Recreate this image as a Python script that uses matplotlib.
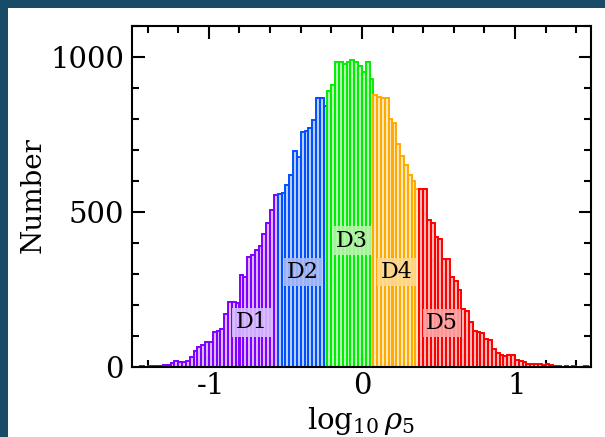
import matplotlib
matplotlib.use("Agg")
import matplotlib.pyplot as plt
from matplotlib.patches import Rectangle
from matplotlib.ticker import MultipleLocator
from matplotlib.colors import to_rgba
import numpy as np

plt.rcParams['font.family'] = ['DejaVu Serif']
plt.rcParams['mathtext.fontset'] = 'dejavuserif'
plt.rcParams['axes.unicode_minus'] = False

# histogram of log10 rho_5, bins of 0.025 starting at -1.5
bin_start = -1.5
bin_width = 0.025
counts = [0, 0, 1, 0, 1, 1, 1, 2,
          6, 6, 11, 18, 13, 15, 19, 32, 49, 62, 70, 78,
          80, 111, 115, 122, 170, 208, 208, 205, 297, 288, 355, 361, 375, 390, 428, 462, 505, 553,
          557, 562, 586, 618, 695, 678, 756, 762, 770, 797, 868, 866, 840,
          890, 910, 984, 984, 976, 984, 989, 984, 970, 952, 984, 928,
          878, 870, 866, 869, 800, 788, 718, 681, 650, 618, 600, 573,
          574, 574, 473, 462, 417, 412, 347, 347, 290, 275,
          247, 186, 179, 143, 116, 113, 107, 89, 86, 55,
          43, 38, 34, 38, 38, 22, 18, 14, 9, 9,
          8, 7, 5, 7, 4, 1, 1, 0, 1, 0,
          1, 0, 0, 1, 0]

# number of bins in each quintile D1..D5
group_sizes = [38, 13, 12, 12, 45]
group_names = ['D1', 'D2', 'D3', 'D4', 'D5']
group_colors = ['#7f00ff', '#0050ff', '#00ee00', '#ffaa00', '#ff0000']
box_colors = ['#d9bcff', '#a9baf5', '#b4f5a8', '#ffd98f', '#ffa3a3']
label_x = [-0.72, -0.384, -0.064, 0.227, 0.524]
label_y = [143, 305, 407, 305, 140]

x_ticks = [-1, 0, 1]
x_ticklabels = [r'$\text{-}1$', r'$0$', r'$1$']
y_ticks = [0, 500, 1000]

W, H = 605, 437
fig = plt.figure(figsize=(W / 100, H / 100), dpi=100, facecolor='#174b68')
fig.patches.append(Rectangle((8 / W, 0), 1, 1 - 8 / H, transform=fig.transFigure,
                             facecolor='white', edgecolor='none', zorder=-10))

ax = fig.add_axes([132.4 / W, 1 - 366.5 / H, 459 / W, 340.5 / H])
ax.set_facecolor('white')

lefts = bin_start + bin_width * np.arange(len(counts))
bar_colors = np.repeat(group_colors, group_sizes)
ax.bar(lefts, counts, width=bin_width, align='edge',
       color=[to_rgba(c, 0.28) for c in bar_colors],
       edgecolor=list(bar_colors), linewidth=1.4, zorder=2)

for name, x, y, bc in zip(group_names, label_x, label_y, box_colors):
    ax.text(x, y, name, ha='center', va='center', fontsize=16, zorder=4,
            bbox=dict(boxstyle='square,pad=0.15', fc=bc, ec='none', alpha=0.9))

ax.set_xlim(-1.5, 1.5)
ax.set_ylim(0, 1100)
ax.set_xticks(x_ticks)
ax.set_xticklabels(x_ticklabels)
ax.set_yticks(y_ticks)
ax.xaxis.set_minor_locator(MultipleLocator(0.2))
ax.yaxis.set_minor_locator(MultipleLocator(100))
ax.tick_params(which='both', direction='in', top=True, right=True, width=1.5, labelsize=21)
ax.tick_params(which='major', length=9)
ax.tick_params(which='minor', length=5)
ax.tick_params(axis='x', pad=4)
ax.tick_params(axis='y', pad=6)
for s in ax.spines.values():
    s.set_linewidth(1.5)

fig.text(33 / W, 1 - 195 / H, 'Number', rotation=90, ha='center', va='center', fontsize=20)
fig.text(361 / W, 1 - 429 / H, r'$\log_{10}\rho_5$', ha='center', va='baseline', fontsize=21)

fig.savefig('out.png', dpi=100, facecolor=fig.get_facecolor())
